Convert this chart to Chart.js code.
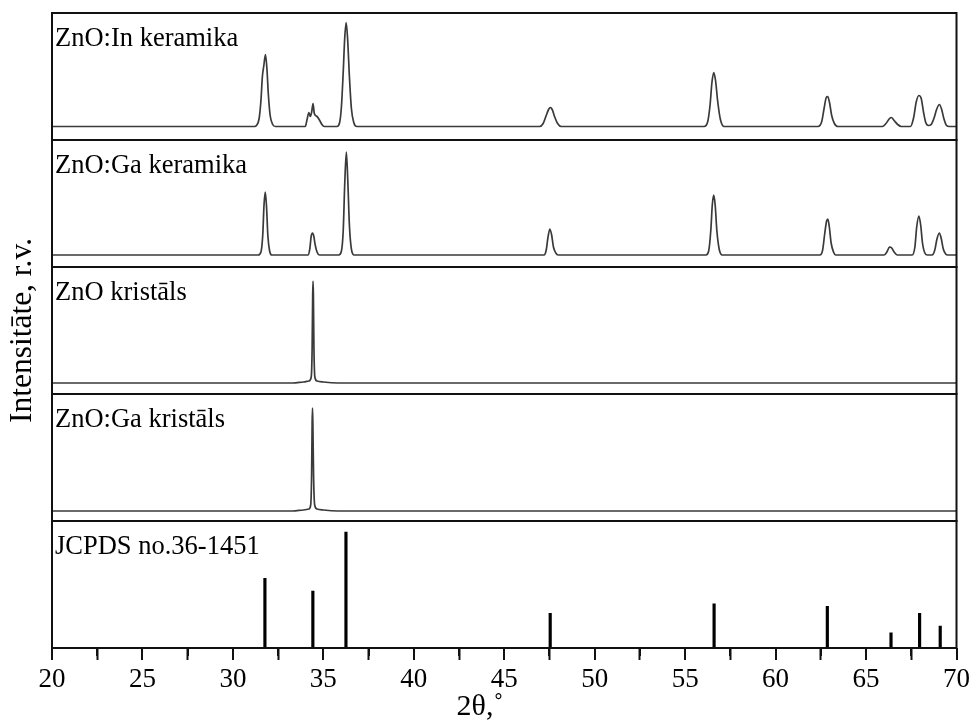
<!DOCTYPE html>
<html>
<head>
<meta charset="utf-8">
<script src="https://cdn.jsdelivr.net/npm/chart.js@4"></script>
<style>
html,body{margin:0;padding:0;background:#fff}
canvas{display:block}
</style>
</head>
<body>
<canvas id="c" width="974" height="722"></canvas>
<script>
// ---------- data (2θ in degrees, intensity in arbitrary units) ----------
const panelLabels = ['ZnO:In keramika', 'ZnO:Ga keramika', 'ZnO kristāls', 'ZnO:Ga kristāls', 'JCPDS no.36-1451'];
const xAxisTitle = '2θ,˚';
const yAxisTitle = 'Intensitāte, r.v.';
const majorTicks = [20, 25, 30, 35, 40, 45, 50, 55, 60, 65, 70];
const minorTicks = [22.5, 27.5, 32.5, 37.5, 42.5, 47.5, 52.5, 57.5, 62.5, 67.5];

const znoInCeramic = [
  [20,0],[31.2,0],[31.3,1],[31.45,8],[31.55,26],[31.63,50],[31.71,61],[31.8,72],[31.88,58],[31.96,32],[32.06,11],[32.2,2],[32.35,0],
  [34.0,0],[34.1,7],[34.2,14],[34.28,10],[34.35,14],[34.43,23],[34.5,13],[34.65,10],[34.8,6],[34.92,2],[35.05,0],
  [35.75,0],[35.9,4],[36.0,20],[36.1,55],[36.18,88],[36.26,104],[36.34,88],[36.44,50],[36.55,18],[36.68,4],[36.85,0],
  [46.95,0],[47.15,3],[47.3,10],[47.45,17],[47.55,19],[47.65,17],[47.8,9],[47.95,3],[48.15,0],
  [56.05,0],[56.25,5],[56.38,22],[56.48,44],[56.58,54],[56.68,46],[56.8,25],[56.95,7],[57.15,0],
  [62.35,0],[62.55,5],[62.68,18],[62.8,29],[62.88,30],[62.98,24],[63.1,11],[63.25,3],[63.45,0],
  [65.9,0],[66.1,3],[66.3,8],[66.4,9],[66.55,6],[66.75,2],[66.95,0],
  [67.45,0],[67.62,8],[67.78,25],[67.92,31],[68.05,28],[68.18,14],[68.3,4],[68.45,1],
  [68.6,2],[68.75,8],[68.9,17],[69.05,22],[69.18,17],[69.3,8],[69.45,1],[69.6,0],[70,0]
];
const znoGaCeramic = [
  [20,0],[31.4,0],[31.55,3],[31.65,20],[31.72,50],[31.79,63],[31.86,48],[31.93,20],[32.03,4],[32.15,0],
  [34.15,0],[34.25,6],[34.33,19],[34.4,22],[34.47,19],[34.55,10],[34.65,3],[34.78,0],
  [35.85,0],[36.0,4],[36.1,25],[36.18,70],[36.27,103],[36.35,75],[36.44,30],[36.55,6],[36.7,0],
  [47.2,0],[47.32,5],[47.42,18],[47.52,26],[47.62,20],[47.72,8],[47.85,2],[47.98,0],
  [56.15,0],[56.3,4],[56.42,25],[56.5,50],[56.58,60],[56.66,50],[56.75,25],[56.88,6],[57.05,0],
  [62.45,0],[62.6,5],[62.72,22],[62.82,34],[62.89,36],[62.97,28],[63.07,12],[63.2,3],[63.32,0],
  [66.0,0],[66.15,3],[66.3,8],[66.42,7],[66.55,3],[66.72,0],
  [67.55,0],[67.7,8],[67.8,28],[67.92,39],[68.02,30],[68.12,12],[68.25,2],[68.4,0],
  [68.65,0],[68.8,5],[68.92,16],[69.05,22],[69.15,17],[69.27,6],[69.4,1],[69.52,0],[70,0]
];
const znoCrystal = [
  [20,0],[33.3,0],[33.9,1],[34.2,2],[34.33,6],[34.38,35],[34.41,88],[34.43,102],[34.45,88],[34.48,35],[34.53,6],[34.65,2],[35.0,1],[35.8,0],[70,0]
];
const znoGaCrystal = [
  [20,0],[33.3,0],[33.9,1],[34.2,2],[34.3,6],[34.35,35],[34.38,88],[34.4,103],[34.42,88],[34.46,35],[34.52,6],[34.65,2],[35.0,1],[35.8,0],[70,0]
];
const jcpdsPositions = [31.77, 34.42, 36.25, 47.54, 56.60, 62.86, 66.38, 67.96, 69.10];
const jcpdsIntensity = [60, 49, 100, 30, 38, 36, 13, 30, 19];

// ---------- chart ----------
const FONT = '"Liberation Serif", "Times New Roman", serif';
const INK = '#111';
const toXY = arr => arr.map(p => ({x: p[0], y: p[1]}));
const panelAxes = ['y1', 'y2', 'y3', 'y4', 'y5'];

function lineSet(data, axis) {
  return {
    type: 'line', data: toXY(data), yAxisID: axis, xAxisID: 'x',
    borderColor: '#3a3a3a', borderWidth: 1.7, pointRadius: 0,
    cubicInterpolationMode: 'monotone', fill: false
  };
}

function yScale(min, max, extra) {
  return Object.assign({
    type: 'linear', position: 'left', stack: 'panels', stackWeight: 1,
    min: min, max: max, offset: false,
    ticks: {display: false}, grid: {display: false}, border: {display: false},
    afterFit: s => { s.width = 52; }
  }, extra || {});
}

const panelPlugin = {
  id: 'panels',
  afterDraw(chart) {
    const {ctx, chartArea} = chart;
    ctx.save();
    ctx.strokeStyle = INK;
    ctx.lineWidth = 2;
    panelAxes.forEach((id, i) => {
      const s = chart.scales[id];
      ctx.strokeRect(chartArea.left, s.top, chartArea.right - chartArea.left, s.bottom - s.top);
      ctx.fillStyle = '#000';
      ctx.font = '26.5px ' + FONT;
      ctx.textBaseline = 'alphabetic';
      ctx.textAlign = 'left';
      ctx.fillText(panelLabels[i], chartArea.left + 3, s.top + 33);
    });
    const xs = chart.scales.x;
    ctx.beginPath();
    majorTicks.forEach(v => {
      const px = Math.round(xs.getPixelForValue(v));
      ctx.moveTo(px, xs.top);
      ctx.lineTo(px, xs.top + 12);
    });
    minorTicks.forEach(v => {
      const px = Math.round(xs.getPixelForValue(v));
      ctx.moveTo(px, xs.top);
      ctx.lineTo(px, xs.top + 8);
    });
    ctx.stroke();
    ctx.restore();
  }
};

new Chart(document.getElementById('c'), {
  type: 'line',
  data: {
    datasets: [
      lineSet(znoInCeramic, 'y1'),
      lineSet(znoGaCeramic, 'y2'),
      lineSet(znoCrystal, 'y3'),
      lineSet(znoGaCrystal, 'y4'),
      {
        type: 'bar', yAxisID: 'y5', xAxisID: 'x', grouped: false,
        data: jcpdsPositions.map((p, i) => ({x: p, y: jcpdsIntensity[i]})),
        backgroundColor: '#000', borderWidth: 0, barThickness: 2.5
      }
    ]
  },
  options: {
    responsive: false,
    animation: false,
    devicePixelRatio: 1,
    layout: {padding: {top: 13, right: 14, left: 0, bottom: 0}},
    plugins: {
      legend: {display: false},
      tooltip: {enabled: false},
      title: {
        display: true, position: 'bottom', text: xAxisTitle, color: '#000',
        font: {family: FONT, size: 30, weight: 'normal', lineHeight: 1},
        padding: {top: 0, bottom: 0}
      }
    },
    scales: {
      x: {
        type: 'linear', position: 'bottom', min: 20, max: 70, offset: false,
        afterBuildTicks: s => { s.ticks = majorTicks.map(v => ({value: v})); },
        ticks: {color: '#000', font: {family: FONT, size: 27}, padding: 4, maxRotation: 0, autoSkip: false},
        grid: {display: true, drawOnChartArea: false, drawTicks: true, tickLength: 12, tickWidth: 2, tickColor: INK},
        border: {display: true, color: INK, width: 2},
        afterFit: s => { s.height = 44; }
      },
      y5: yScale(0, 109.5),
      y4: yScale(-10, 117),
      y3: yScale(-11, 116, {
        title: {display: true, text: yAxisTitle, color: '#000',
                font: {family: FONT, size: 31.5}, padding: {top: 4, bottom: 0}}
      }),
      y2: yScale(-12, 115),
      y1: yScale(-13.5, 113.5)
    }
  },
  plugins: [panelPlugin]
});
</script>
</body>
</html>
